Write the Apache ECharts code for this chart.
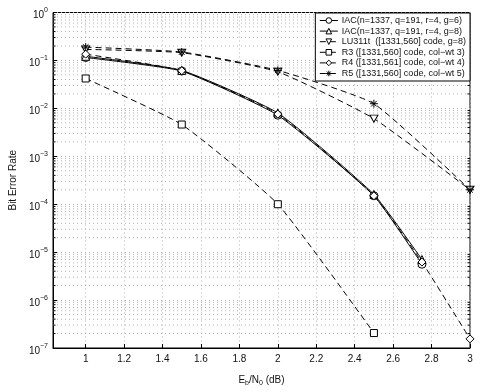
<!DOCTYPE html>
<html>
<head>
<meta charset="utf-8">
<script src="https://cdn.jsdelivr.net/npm/echarts@6/dist/echarts.min.js"></script>
<style>
  html, body { margin: 0; padding: 0; background: #fff; }
  #chart { width: 480px; height: 392px; }
</style>
</head>
<body>
<div id="chart"></div>
<script>
// Eb/N0 points (dB)
const ebno = [1, 1.5, 2, 2.5, 2.75, 3]
// bit error rates, null where the curve has no point
const iac6 = [0.115, 0.060, 0.0072, 1.5e-4, 5.6e-6, null]
const iac8 = [0.122, 0.062, 0.0080, 1.6e-4, 7.0e-6, null]
const lu311t = [0.17, 0.145, 0.058, 0.0061, null, 2.0e-4]
const r3 = [0.042, 0.0046, 1.0e-4, 2.05e-7, null, null]
const r4 = [0.135, 0.061, 0.0076, 1.5e-4, 6.2e-6, 1.55e-7]
const r5 = [0.19, 0.15, 0.062, 0.0125, null, 2.0e-4]

const names = [
  'IAC(n=1337, q=191, r=4, g=6)',
  'IAC(n=1337, q=191, r=4, g=8)',
  'LU311t  ([1331,560] code, g=8)',
  'R3 ([1331,560] code, col\u2212wt 3)',
  'R4 ([1331,561] code, col\u2212wt 4)',
  'R5 ([1331,560] code, col\u2212wt 5)'
]

const X_MIN = 0.83, X_MAX = 3
const FONT = '"Liberation Sans", Arial, Helvetica, sans-serif'
const GRID_COLOR = '#b4b4b4'
const triDown = 'path://M0,0 L10,0 L5,8.66 Z'
const diamond = 'path://M5,0 L10,5 L5,10 L0,5 Z'
const star = 'path://M0,5 L10,5 M5,0 L5,10 M1.5,1.5 L8.5,8.5 M8.5,1.5 L1.5,8.5'

function pairs(ys) {
  const out = []
  ys.forEach((y, i) => { if (y != null) out.push([ebno[i], y]) })
  return out
}

function line(name, ys, symbol, size, dashed) {
  return {
    name: name,
    type: 'line',
    data: pairs(ys),
    symbol: symbol,
    symbolSize: size,
    smooth: 0.15,
    lineStyle: { color: '#000', width: 1, type: dashed ? [6, 4] : 'solid' },
    itemStyle: { color: '#fff', borderColor: '#000', borderWidth: 1 },
    emphasis: { disabled: true },
    z: 3
  }
}

// minor log grid values (2..9 per decade)
const minorVals = []
for (let k = -7; k < 0; k++) {
  for (let m = 2; m <= 9; m++) minorVals.push([X_MIN, m * Math.pow(10, k)])
}

const series = [
  line(names[0], iac6, 'circle', 8, false),
  line(names[1], iac8, 'triangle', 8, false),
  line(names[2], lu311t, triDown, [8, 7], true),
  line(names[3], r3, 'rect', 7, true),
  line(names[4], r4, diamond, 8, true),
  line(names[5], r5, star, 8, true),
  {
    type: 'custom',
    silent: true,
    z: 1,
    data: minorVals,
    renderItem: function (params, api) {
      const a = api.coord([X_MIN, api.value(1)])
      const b = api.coord([X_MAX, api.value(1)])
      return {
        type: 'group',
        children: [
          {
            type: 'line',
            shape: { x1: a[0], y1: a[1], x2: b[0], y2: b[1] },
            style: { stroke: GRID_COLOR, lineWidth: 1, lineDash: [1, 3] }
          },
          {
            type: 'line',
            shape: { x1: a[0], y1: a[1], x2: a[0] + 2.5, y2: a[1] },
            style: { stroke: '#000', lineWidth: 1 }
          },
          {
            type: 'line',
            shape: { x1: b[0] - 2.5, y1: b[1], x2: b[0], y2: b[1] },
            style: { stroke: '#000', lineWidth: 1 }
          }
        ]
      }
    }
  }
]
series[5].itemStyle = { color: '#000', borderColor: '#000', borderWidth: 1 }

const chart = echarts.init(document.getElementById('chart'), null, { renderer: 'canvas' })
chart.setOption({
  animation: false,
  backgroundColor: '#fff',
  textStyle: { fontFamily: FONT },
  grid: {
    left: 39, right: 10, top: 12.5, bottom: 39.5,
    show: true, borderColor: '#000', borderWidth: 1, backgroundColor: 'transparent'
  },
  legend: {
    data: names,
    orient: 'vertical',
    right: 10,
    top: 13,
    backgroundColor: '#fff',
    borderColor: '#000',
    borderWidth: 1,
    padding: [3, 4, 3, 4],
    itemGap: 1.6,
    itemWidth: 18,
    itemHeight: 7,
    lineStyle: { width: 1 },
    itemStyle: { borderWidth: 1 },
    textStyle: { fontFamily: FONT, fontSize: 9, lineHeight: 9, color: '#111', padding: [0, 0, 0, -1] },
    selectedMode: false
  },
  xAxis: {
    type: 'value',
    min: X_MIN,
    max: X_MAX,
    splitNumber: 11,
    minInterval: 0.2,
    maxInterval: 0.2,
    name: 'E{s|b}/N{s|0} (dB)',
    nameLocation: 'middle',
    nameGap: 25,
    nameTextStyle: {
      fontFamily: FONT, fontSize: 10, color: '#111',
      rich: { s: { fontFamily: FONT, fontSize: 7, color: '#111', padding: [7, 0, 0, 0] } }
    },
    axisLine: { show: true, lineStyle: { color: '#000' } },
    axisTick: { inside: true, length: 4, lineStyle: { color: '#000' } },
    axisLabel: {
      fontFamily: FONT, fontSize: 10, color: '#111', margin: 6,
      formatter: v => (Math.abs(v * 5 - Math.round(v * 5)) < 1e-6 ? String(Math.round(v * 10) / 10) : '')
    },
    splitLine: { show: true, lineStyle: { color: GRID_COLOR, type: [1, 3], width: 1 } }
  },
  yAxis: {
    type: 'log',
    logBase: 10,
    min: 1e-7,
    max: 1,
    splitNumber: 7,
    name: 'Bit Error Rate',
    nameLocation: 'middle',
    nameGap: 31,
    nameTextStyle: { fontFamily: FONT, fontSize: 10, color: '#111' },
    axisLine: { show: true, lineStyle: { color: '#000' } },
    axisTick: { inside: true, length: 4, lineStyle: { color: '#000' } },
    axisLabel: {
      margin: 5,
      formatter: v => '{b|10}{e|' + String(Math.round(Math.log10(v))).replace('-', '\u2212') + '}',
      rich: {
        b: { fontFamily: FONT, fontSize: 10, color: '#111', padding: [6, 0, 0, 0] },
        e: { fontFamily: FONT, fontSize: 7, color: '#111', padding: [0, 0, 4, 0] }
      }
    },
    splitLine: { show: true, lineStyle: { color: GRID_COLOR, type: [1, 3], width: 1 } }
  },
  series: series
})
window.addEventListener('resize', chart.resize)
</script>
</body>
</html>
